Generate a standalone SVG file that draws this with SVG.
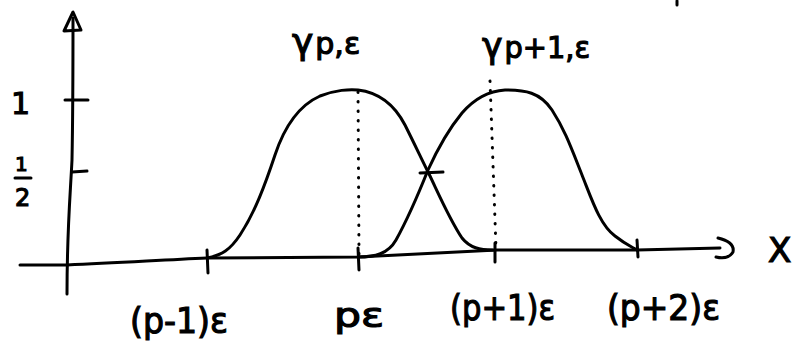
<svg xmlns="http://www.w3.org/2000/svg" width="803" height="348" viewBox="0 0 803 348">
<style>
.ln{fill:none;stroke:#000;stroke-width:3;stroke-linecap:round;stroke-linejoin:round}
.dot{fill:none;stroke:#000;stroke-width:3;stroke-linecap:round;stroke-dasharray:0.5 9}
.t{font-family:"DejaVu Sans",sans-serif;fill:#000;stroke:#000;stroke-width:1.2}
</style>
<rect width="803" height="348" fill="#fff"/>
<g id="axes">
<path class="ln" d="M 67 294 C 67 230 70 200 72 160 C 73 110 73 60 73 18"/>
<path class="ln" d="M 73 12 L 64 31 L 81 30 Z"/>
<path class="ln" d="M 20 265 L 67 265 C 120 263 160 260 207 258 L 358 257 L 497 250 L 637 250 L 720 248"/>
<path class="ln" d="M 718 238 Q 735 242 733 252 Q 728 260 716 257"/>
<path class="ln" d="M 65 100 L 88 100"/>
<path class="ln" d="M 72 172 L 87 171"/>
<path class="ln" d="M 207 250 L 208 273"/>
<path class="ln" d="M 358 248 L 359 270"/>
<path class="ln" d="M 495 243 L 495 262"/>
<path class="ln" d="M 637 240 L 638 257"/>
<path class="ln" d="M 677 1 L 677 5"/>
</g>
<g id="ylabels">
<text class="t" x="11" y="114" font-size="30">1</text>
<text class="t" x="15" y="171" font-size="20">1</text>
<path class="ln" d="M 15 178 L 31 178" stroke-width="2.5"/>
<text class="t" x="15" y="206" font-size="24">2</text>
</g>
<g id="curve-p">
<path class="ln" d="M 207 258 C 222 255 230 250 240 235 C 255 212 265 185 275 155 C 285 125 300 105 320 96 C 335 90 350 89 358 90 C 375 92 392 100 405 125 C 415 145 422 160 430 176 C 440 197 450 220 462 238 C 470 248 480 250 493 250"/>
<text class="t" x="292" y="54" font-size="36">γ<tspan font-size="30" dx="2">p,ε</tspan></text>
</g>
<g id="curve-p1">
<path class="ln" d="M 358 257 C 375 257 388 254 396 240 C 406 222 418 195 428 170 C 438 148 448 130 462 113 C 475 98 488 91 505 90 C 525 90 540 92 552 110 C 565 130 572 150 582 175 C 592 200 600 225 615 236 C 625 244 632 247 637 250" stroke-width="3.5"/>
<text class="t" x="482" y="58" font-size="36" textLength="108" lengthAdjust="spacingAndGlyphs">γ<tspan font-size="30" dx="2">p+1,ε</tspan></text>
</g>
<g id="connectors">
<path class="dot" d="M 358 92 L 359 257"/>
<path class="dot" d="M 490 81 L 496 248"/>
<path class="ln" d="M 420 173 L 443 172" stroke-width="2.5"/>
</g>
<g id="xlabels">
<text class="t" x="130" y="333" font-size="36" textLength="98" lengthAdjust="spacingAndGlyphs">(p-1)ε</text>
<text class="t" x="334" y="327" font-size="34" textLength="50" lengthAdjust="spacingAndGlyphs">pε</text>
<text class="t" x="450" y="320" font-size="36" textLength="105" lengthAdjust="spacingAndGlyphs">(p+1)ε</text>
<text class="t" x="607" y="320" font-size="36" textLength="113" lengthAdjust="spacingAndGlyphs">(p+2)ε</text>
<text class="t" x="768" y="262" font-size="34">X</text>
</g>
</svg>
